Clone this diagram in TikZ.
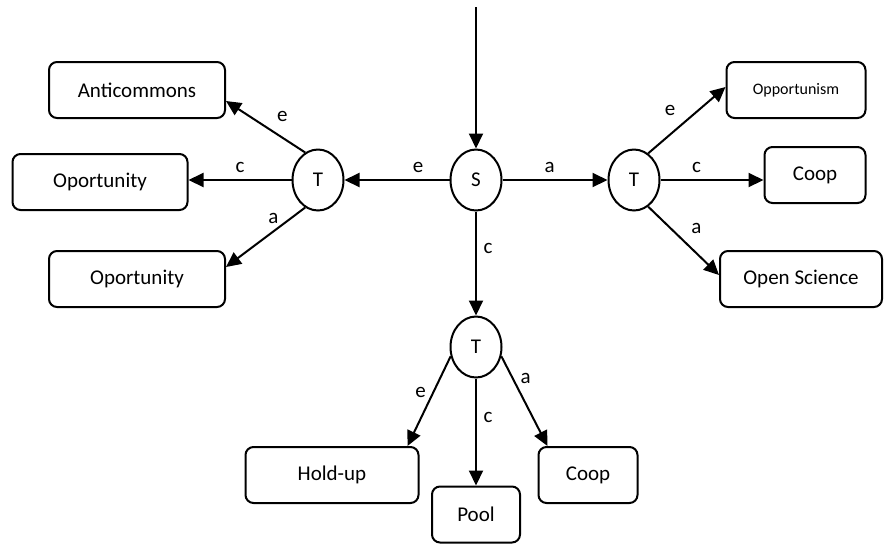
\documentclass[tikz,border=0pt]{standalone}
\usepackage{fontspec}
\setmainfont{Carlito}
\usetikzlibrary{arrows.meta, positioning, shapes.geometric}

\begin{document}
\begin{tikzpicture}[->, >={Triangle[length=7.5pt, width=7pt]}, line width=1pt, x=0.5pt, y=-0.5pt, every node/.style={font=\fontsize{10.5}{12.6}\selectfont}, state/.style={draw, ellipse, minimum width=25.5pt, minimum height=30.5pt, inner sep=0pt}, outcome/.style={draw, rounded corners=4pt, minimum height=28pt, inner sep=2pt}]

			\useasboundingbox (0,0) rectangle (884,543);

					\coordinate (in) at (476,7);
					\node [state] (S) at (476,180) {S};
					\node [state] (TL) at (318,180) {T};
					\node [state] (TR) at (634,180) {T};
					\node [state] (TB) at (476,347) {T};

					\node [outcome, minimum width=88pt] (Anti) at (137,90) {Anticommons};
					\node [outcome, minimum width=87.5pt] (OpC) at (100,182) {Oportunity};
					\node [outcome, minimum width=88pt] (OpA) at (137,279) {Oportunity};

					\node [outcome, minimum width=69.5pt, font=\fontsize{8}{9.6}\selectfont] (Opm) at (796,90) {Opportunism};
					\node [outcome, minimum width=50.5pt] (CoopR) at (815,175) {Coop};
					\node [outcome, minimum width=81pt] (Open) at (801,279) {Open Science};

					\node [outcome, minimum width=86.5pt] (Hold) at (332,475) {Hold-up};
					\node [outcome, minimum width=44pt] (Pool) [below=53.5pt of TB] {Pool};
					\node [outcome, minimum width=49.5pt] (CoopB) at (588,475) {Coop};

					\draw (in) -- (S);

					\draw (S) -- node[above, pos=0.3] {e} (TL);

					\draw (S) -- node[above, pos=0.45] {a} (TR);

					\draw (S) -- node[right, pos=0.36] {c} (TB);

					\draw (TL.115) -- node[above right, pos=0.45] {e} ([yshift=-5.5pt]Anti.east);

					\draw (TL.west) -- node[above, pos=0.5] {c} (TL.west -| OpC.east);

					\draw (TL.245) -- node[above, pos=0.4] {a} ([yshift=6pt]OpA.east);

					\draw (TR.62) -- node[above left, pos=0.45] {e} ([yshift=1.5pt]Opm.west);

					\draw (TR.east) -- node[above, pos=0.35] {c} (TR.east -| CoopR.west);

					\draw (TR.298) -- node[above right, pos=0.5] {a} ([yshift=2pt]Open.west);

					\draw (TB.200) -- node[left, pos=0.4] {e} ([xshift=-6pt]Hold.north east);

					\draw (TB) -- node[right, pos=0.36] {c} (Pool);

					\draw (TB.340) -- node[right, pos=0.25] {a} ([xshift=5pt]CoopB.north west);

				\end{tikzpicture}
\end{document}
